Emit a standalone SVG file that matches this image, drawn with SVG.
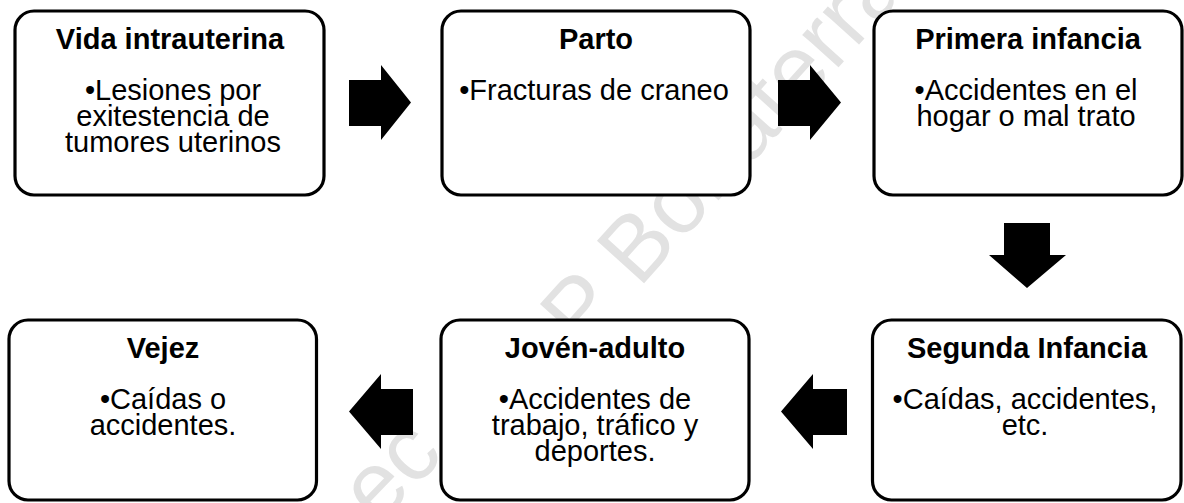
<svg xmlns="http://www.w3.org/2000/svg" width="1184" height="503" viewBox="0 0 1184 503">
  <style>
    .box { fill: #ffffff; stroke: #000000; stroke-width: 3.2; }
    .title { font-family: "Liberation Sans", Arial, sans-serif; font-size: 29px; font-weight: bold; fill: #000000; text-anchor: middle; }
    .body { font-family: "Liberation Sans", Arial, sans-serif; font-size: 29px; fill: #000000; text-anchor: middle; }
    .arrow { fill: #000000; }
    .wm { font-family: "Liberation Sans", Arial, sans-serif; font-size: 92px; fill: #e2e2e2; }
  </style>
  <rect width="1184" height="503" fill="#ffffff"/>
  <g id="watermark">
    <text class="wm" transform="translate(378,526) rotate(-46)">ec</text>
    <text class="wm" transform="translate(582,352) rotate(-48)">P Bonaterra</text>
  </g>
  <g id="connectors">
    <polygon class="arrow" points="349,80 381,80 381,65 411,102.5 381,140 381,126 349,126"/>
    <polygon class="arrow" points="778,80 810,80 810,65 841,102.5 810,140 810,126 778,126"/>
    <polygon class="arrow" points="1004,223 1050,223 1050,255 1066,255 1027,288 989,255 1004,255"/>
    <polygon class="arrow" points="847,389 813,389 813,374 781,411.5 813,449 813,435 847,435"/>
    <polygon class="arrow" points="413,389 381,389 381,374 349,411.5 381,449 381,435 413,435"/>
  </g>
  <g id="node-vida">
    <rect class="box" x="15" y="11" width="309" height="184" rx="19"/>
    <text class="title" x="170" y="49">Vida intrauterina</text>
    <text class="body" x="173" y="100">•Lesiones por</text>
    <text class="body" x="173" y="126">exitestencia de</text>
    <text class="body" x="173" y="152">tumores uterinos</text>
  </g>
  <g id="node-parto">
    <rect class="box" x="442" y="11" width="308" height="184" rx="19"/>
    <text class="title" x="596" y="49">Parto</text>
    <text class="body" x="594" y="100">•Fracturas de craneo</text>
  </g>
  <g id="node-primera">
    <rect class="box" x="874" y="11" width="308" height="184" rx="19"/>
    <text class="title" x="1028" y="49">Primera infancia</text>
    <text class="body" x="1026" y="100">•Accidentes en el</text>
    <text class="body" x="1026" y="126">hogar o mal trato</text>
  </g>
  <g id="node-segunda">
    <rect class="box" x="872.5" y="320" width="308.5" height="180" rx="19"/>
    <text class="title" x="1027" y="358">Segunda Infancia</text>
    <text class="body" x="1025" y="409">•Caídas, accidentes,</text>
    <text class="body" x="1025" y="435">etc.</text>
  </g>
  <g id="node-joven">
    <rect class="box" x="441" y="320" width="308" height="180" rx="19"/>
    <text class="title" x="595" y="358">Jovén-adulto</text>
    <text class="body" x="595" y="409">•Accidentes de</text>
    <text class="body" x="595" y="435">trabajo, tráfico y</text>
    <text class="body" x="595" y="461">deportes.</text>
  </g>
  <g id="node-vejez">
    <rect class="box" x="9" y="320" width="307.5" height="180" rx="19"/>
    <text class="title" x="163" y="358">Vejez</text>
    <text class="body" x="163" y="409">•Caídas o</text>
    <text class="body" x="163" y="435">accidentes.</text>
  </g>
</svg>
